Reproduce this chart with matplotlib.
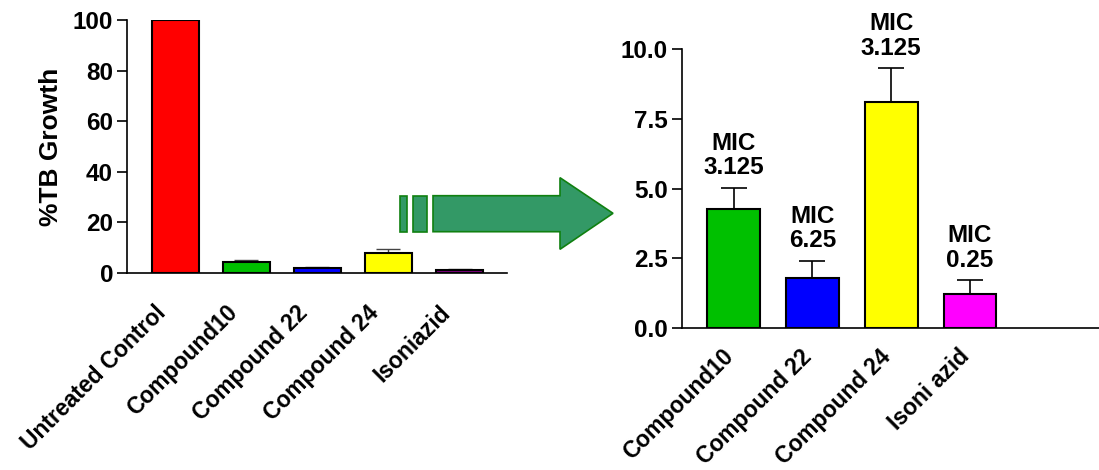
import matplotlib.pyplot as plt
from matplotlib.patches import Polygon, Rectangle
from matplotlib.transforms import ScaledTranslation
import numpy as np

plt.rcParams['font.family'] = ['Liberation Sans', 'DejaVu Sans']
plt.rcParams['font.weight'] = 'bold'
plt.rcParams['font.size'] = 17.5

# %TB growth relative to untreated control (mean, upper SD)
groups = ["Untreated Control", "Compound10", "Compound 22", "Compound 24", "Isoniazid"]
growth = [100, 4.27, 1.80, 8.10, 1.24]
growth_sd = [0, 0.76, 0.62, 1.21, 0.49]
colors_all = ["#ff0000", "#00c000", "#0000ff", "#ffff00", "#800080"]

# zoomed view of the treated groups
zoom_groups = ["Compound10", "Compound 22", "Compound 24", "Isoni azid"]
zoom_growth = [4.27, 1.80, 8.10, 1.24]
zoom_sd = [0.76, 0.62, 1.21, 0.49]
zoom_colors = ["#00c000", "#0000ff", "#ffff00", "#ff00ff"]
mic = ["3.125", "6.25", "3.125", "0.25"]

fig = plt.figure(figsize=(10.99, 4.70), dpi=100)


def style_axes(ax, xpad, shift_px):
    ax.spines['top'].set_visible(False)
    ax.spines['right'].set_visible(False)
    ax.spines['left'].set_linewidth(1.2)
    ax.spines['bottom'].set_linewidth(1.2)
    ax.tick_params(axis='y', length=7, width=1.2, pad=3)
    ax.tick_params(axis='x', length=0, pad=xpad)
    # nudge the slanted category labels sideways
    shift = ScaledTranslation(shift_px / 100, 0, fig.dpi_scale_trans)
    for lab in ax.get_xticklabels():
        lab.set_transform(lab.get_transform() + shift)


# left panel: all groups
ax1 = fig.add_axes([127 / 1099, 197 / 470, 380 / 1099, 253 / 470])
x1 = np.arange(len(groups))
ax1.bar(x1, growth, width=0.66, color=colors_all, edgecolor='black', linewidth=1.5, zorder=2)
ax1.errorbar(x1, growth, yerr=[np.zeros(len(growth)), growth_sd], fmt='none',
             ecolor='#444444', elinewidth=1, capsize=8.5, capthick=1, zorder=1)
ax1.set_xlim(-0.683, 4.669)
ax1.set_ylim(0, 100)
ax1.set_yticks([0, 20, 40, 60, 80, 100])
ax1.set_xticks(x1)
ax1.set_xticklabels(groups, rotation=45, ha='right', va='center', rotation_mode='anchor',
                    fontsize=16.5)
ax1.set_ylabel("%TB Growth", fontsize=19, fontweight='bold')
ax1.yaxis.set_label_coords(-0.168, 0.5)
style_axes(ax1, 26, -13)

# right panel: zoomed treated groups with MIC annotations
ax2 = fig.add_axes([682 / 1099, 141.7 / 470, 417 / 1099, 279.3 / 470])
x2 = np.arange(len(zoom_groups))
ax2.bar(x2, zoom_growth, width=0.67, color=zoom_colors, edgecolor='black', linewidth=1.5, zorder=2)
ax2.errorbar(x2, zoom_growth, yerr=[np.zeros(len(zoom_growth)), zoom_sd], fmt='none',
             ecolor='black', elinewidth=1.2, capsize=9.5, capthick=1.2, zorder=1)
for xi, yi, ei, m in zip(x2, zoom_growth, zoom_sd, mic):
    ax2.annotate(f"MIC\n{m}", (xi, yi + ei), xytext=(0, 6), textcoords='offset points',
                 ha='center', va='bottom', fontsize=17.5, fontweight='bold', linespacing=1.1)
ax2.set_xlim(-0.654, 4.637)
ax2.set_ylim(0, 10)
ax2.set_yticks([0, 2.5, 5, 7.5, 10])
ax2.set_yticklabels([f"{v:.1f}" for v in [0, 2.5, 5, 7.5, 10]])
ax2.set_xticks(x2)
ax2.set_xticklabels(zoom_groups, rotation=45, ha='right', va='center', rotation_mode='anchor',
                    fontsize=16.5)
style_axes(ax2, 18, -4)

# arrow between the panels, drawn in pixel space
ov = fig.add_axes([0, 0, 1, 1], zorder=5)
ov.set_xlim(0, 1099)
ov.set_ylim(470, 0)
ov.axis('off')
arrow_fill = "#339966"
arrow_edge = "#108010"
for x0, w in [(400, 7.3), (413.3, 14)]:
    ov.add_patch(Rectangle((x0, 195.7), w, 36, facecolor=arrow_fill, edgecolor=arrow_edge, linewidth=1.2))
ov.add_patch(Polygon([(433, 195.7), (560, 195.7), (560, 177.7), (613, 213.3),
                      (560, 249.3), (560, 231.7), (433, 231.7)],
                     closed=True, facecolor=arrow_fill, edgecolor=arrow_edge, linewidth=1.2))

fig.savefig("out.png", dpi=100)
